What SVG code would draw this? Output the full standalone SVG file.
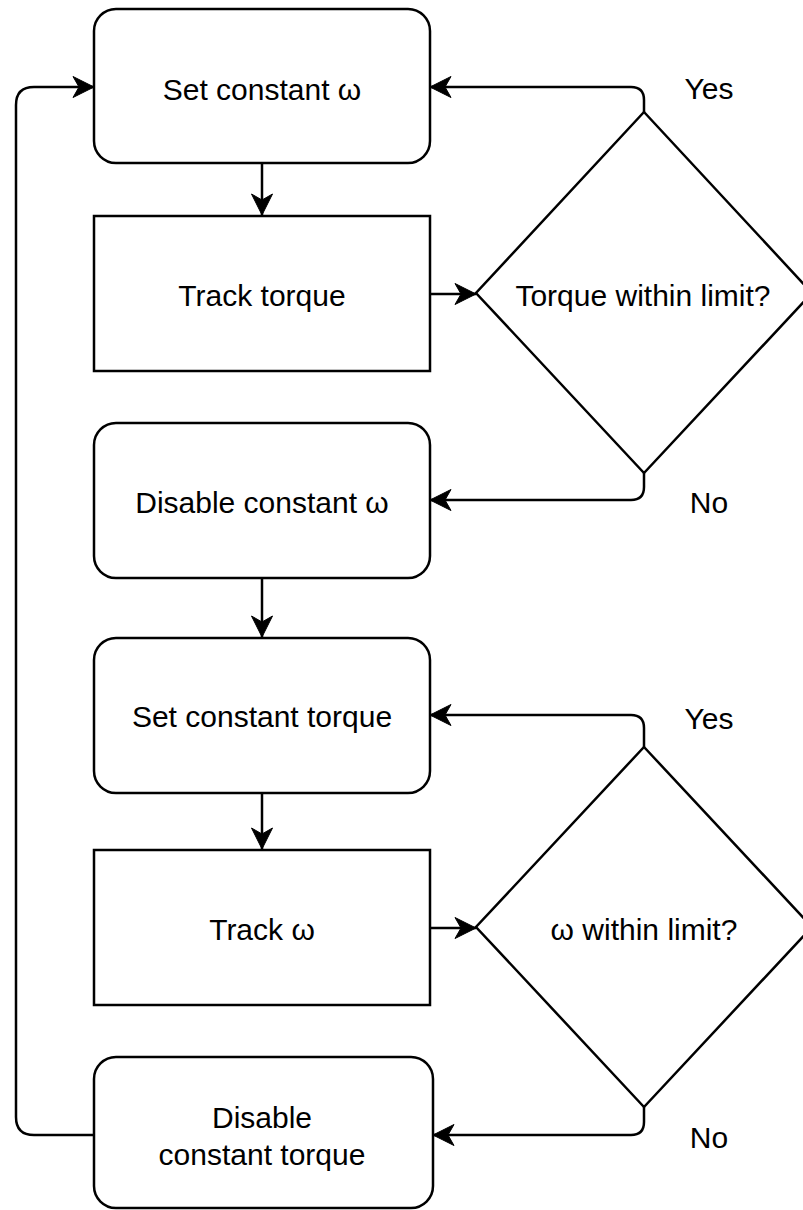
<svg xmlns="http://www.w3.org/2000/svg" width="803" height="1210" viewBox="0 0 803 1210">
  <style>
    .shape { fill: #ffffff; stroke: #000000; stroke-width: 2.5; }
    .edge { fill: none; stroke: #000000; stroke-width: 2.5; }
    .label { font-family: "Liberation Sans", Arial, sans-serif; font-size: 30px; fill: #000000; text-anchor: middle; }
  </style>
  <defs>
    <marker id="arrow" viewBox="0 0 24 24" refX="22" refY="12" markerWidth="24" markerHeight="24" markerUnits="userSpaceOnUse" orient="auto">
      <path d="M1,1.5 L22,12 L1,22.5 L7,12 Z" fill="#000000" stroke="#000000" stroke-width="1" stroke-linejoin="miter"/>
    </marker>
  </defs>
  <rect width="803" height="1210" fill="#ffffff"/>

  <g id="connectors">
    <!-- straight flow down the column -->
    <path class="edge" d="M262,163 L262,215" marker-end="url(#arrow)"/>
    <path class="edge" d="M262,578 L262,637" marker-end="url(#arrow)"/>
    <path class="edge" d="M262,793 L262,849" marker-end="url(#arrow)"/>
    <!-- tracking boxes into decisions -->
    <path class="edge" d="M430,294 L476,294" marker-end="url(#arrow)"/>
    <path class="edge" d="M430,928 L476,928" marker-end="url(#arrow)"/>
    <!-- decision 1 branches -->
    <path class="edge" d="M644,112 L644,100 Q644,87 631,87 L430,87" marker-end="url(#arrow)"/>
    <path class="edge" d="M644,473 L644,487 Q644,500 631,500 L430,500" marker-end="url(#arrow)"/>
    <!-- decision 2 branches -->
    <path class="edge" d="M644,747 L644,728 Q644,715 631,715 L430,715" marker-end="url(#arrow)"/>
    <path class="edge" d="M644,1107 L644,1122 Q644,1135 631,1135 L433,1135" marker-end="url(#arrow)"/>
    <!-- loop back to the start -->
    <path class="edge" d="M94,1135 L34,1135 Q16,1135 16,1117 L16,105 Q16,87 34,87 L94,87" marker-end="url(#arrow)"/>
  </g>

  <g id="set-constant-omega">
    <rect class="shape" x="94" y="9" width="336" height="154" rx="22" ry="22"/>
    <text class="label" x="262" y="100">Set constant ω</text>
  </g>

  <g id="track-torque">
    <rect class="shape" x="94" y="216" width="336" height="155"/>
    <text class="label" x="262" y="306">Track torque</text>
  </g>

  <g id="torque-within-limit">
    <polygon class="shape" points="644,112 812,293 644,473 476,293"/>
    <text class="label" x="643" y="306">Torque within limit?</text>
  </g>

  <g id="disable-constant-omega">
    <rect class="shape" x="94" y="423" width="336" height="155" rx="22" ry="22"/>
    <text class="label" x="262" y="513">Disable constant ω</text>
  </g>

  <g id="set-constant-torque">
    <rect class="shape" x="94" y="638" width="336" height="155" rx="22" ry="22"/>
    <text class="label" x="262" y="727">Set constant torque</text>
  </g>

  <g id="track-omega">
    <rect class="shape" x="94" y="850" width="336" height="155"/>
    <text class="label" x="262" y="940">Track ω</text>
  </g>

  <g id="omega-within-limit">
    <polygon class="shape" points="644,747 812,927 644,1107 476,927"/>
    <text class="label" x="644" y="940">ω within limit?</text>
  </g>

  <g id="disable-constant-torque">
    <rect class="shape" x="94" y="1057" width="339" height="151" rx="22" ry="22"/>
    <text class="label" x="262" y="1128">Disable</text>
    <text class="label" x="262" y="1165">constant torque</text>
  </g>

  <g id="branch-labels">
    <text class="label" x="709" y="99">Yes</text>
    <text class="label" x="709" y="513">No</text>
    <text class="label" x="709" y="729">Yes</text>
    <text class="label" x="709" y="1148">No</text>
  </g>
</svg>
